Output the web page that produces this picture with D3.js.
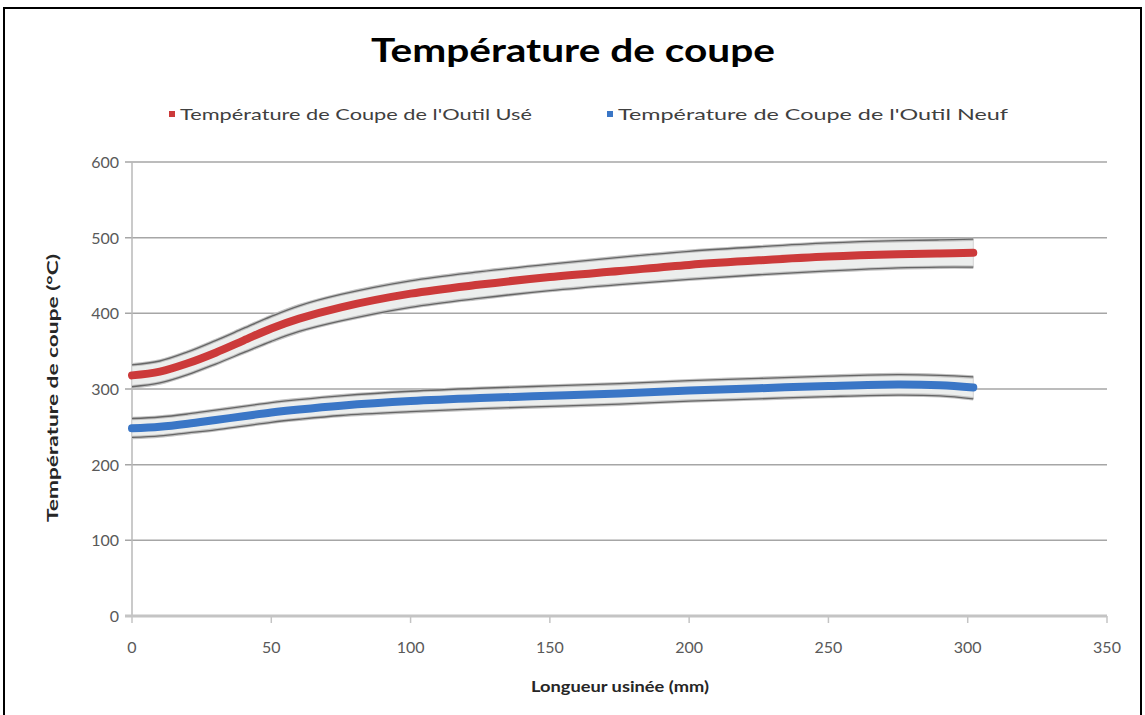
<!DOCTYPE html>
<html>
<head>
<meta charset="utf-8">
<script src="https://cdn.jsdelivr.net/npm/d3@7"></script>
<style>
	body { margin: 0; background: #fff; }
	svg { display: block; font-family: Lato, "Open Sans", sans-serif; }
</style>
</head>
<body>
<div id="chart"></div>
<script>
// longueur usinée (mm)
var lengths = [0, 10, 20, 30, 40, 50, 60, 75, 100, 125, 150, 175, 200, 225, 250, 275, 290, 302];
// température outil usé, courbe + bornes
var usedTemp = [318, 323, 334, 348, 364, 380, 393, 408, 426, 438, 448, 456, 464, 470, 475, 478, 479, 480];
var usedHigh = [332, 337, 349, 364, 380, 396, 410, 425, 443, 455, 465, 474, 482, 488, 493, 496, 497, 498];
var usedLow  = [303, 308, 319, 333, 348, 363, 376, 390, 408, 420, 430, 438, 445, 451, 456, 460, 461, 461];
// température outil neuf, courbe + bornes
var newTemp = [248, 250, 254, 259, 264, 269, 273, 278, 284, 288, 291, 294, 298, 301, 304, 306, 305, 302];
var newHigh = [261, 263, 267, 272, 277, 282, 286, 291, 297, 301, 304, 307, 311, 314, 317, 319, 318, 316];
var newLow  = [236, 238, 242, 246, 251, 256, 260, 265, 270, 274, 277, 280, 284, 287, 290, 292, 291, 287];

var xTicks = [0, 50, 100, 150, 200, 250, 300, 350];
var yTicks = [0, 100, 200, 300, 400, 500, 600];
var seriesNames = ["Température de Coupe de l'Outil Usé", "Température de Coupe de l'Outil Neuf"];

var W = 1145, H = 715;
var svg = d3.select("#chart").append("svg").attr("width", W).attr("height", H);

// cadre (le bas sort de l'image)
svg.append("rect").attr("x", 4).attr("y", 8).attr("width", 1137).attr("height", 720)
	.attr("fill", "#fff").attr("stroke", "#000").attr("stroke-width", 2);

var x = d3.scaleLinear().domain([0, 350]).range([132, 1107]);
var y = d3.scaleLinear().domain([0, 600]).range([616, 162]);

// grille
svg.append("g").selectAll("line").data(yTicks.filter(function (d) { return d > 0; })).enter()
	.append("line")
	.attr("x1", 125).attr("x2", x(350))
	.attr("y1", function (d) { return y(d); }).attr("y2", function (d) { return y(d); })
	.attr("stroke", "#a6a6a6").attr("stroke-width", 1.5);

// axe y
svg.append("line").attr("x1", x(0)).attr("x2", x(0)).attr("y1", y(600)).attr("y2", y(0))
	.attr("stroke", "#b8b8b8").attr("stroke-width", 1.5);

// axe x
svg.append("line").attr("x1", 125).attr("x2", x(350)).attr("y1", y(0)).attr("y2", y(0))
	.attr("stroke", "#c4c4c4").attr("stroke-width", 3);
svg.append("g").selectAll("line").data(xTicks).enter().append("line")
	.attr("x1", function (d) { return x(d); }).attr("x2", function (d) { return x(d); })
	.attr("y1", y(0)).attr("y2", y(0) + 7)
	.attr("stroke", "#c4c4c4").attr("stroke-width", 1.5);

svg.append("g").selectAll("text").data(yTicks).enter().append("text")
	.attr("x", 119).attr("y", function (d) { return y(d) + 6; })
	.attr("text-anchor", "end").attr("font-size", 16).attr("fill", "#595959")
	.text(function (d) { return d; });

svg.append("g").selectAll("text").data(xTicks).enter().append("text")
	.attr("x", function (d) { return x(d); }).attr("y", 653)
	.attr("text-anchor", "middle").attr("font-size", 16).attr("fill", "#595959")
	.text(function (d) { return d; });

// titres
svg.append("text").attr("x", 573).attr("y", 62).attr("text-anchor", "middle")
	.attr("font-size", 33).attr("font-weight", "bold").attr("fill", "#000")
	.attr("textLength", 404).attr("lengthAdjust", "spacingAndGlyphs")
	.text("Température de coupe");

svg.append("text").attr("x", 620).attr("y", 692).attr("text-anchor", "middle")
	.attr("font-size", 16).attr("font-weight", "bold").attr("fill", "#262626")
	.attr("textLength", 178).attr("lengthAdjust", "spacingAndGlyphs")
	.text("Longueur usinée (mm)");

svg.append("text").attr("transform", "translate(58,388) rotate(-90)").attr("text-anchor", "middle")
	.attr("font-size", 16).attr("font-weight", "bold").attr("fill", "#262626")
	.attr("textLength", 268).attr("lengthAdjust", "spacingAndGlyphs")
	.text("Température de coupe (°C)");

// courbes
var curve = d3.curveCatmullRom.alpha(0.5);

function drawSeries(mid, hi, lo, color) {
	var pts = lengths.map(function (d, i) { return { x: d, m: mid[i], h: hi[i], l: lo[i] }; });
	var area = d3.area().curve(curve)
		.x(function (d) { return x(d.x); })
		.y0(function (d) { return y(d.l); })
		.y1(function (d) { return y(d.h); });
	svg.append("path").datum(pts).attr("d", area)
		.attr("fill", "#eceeed").attr("stroke", "#d4d4d4").attr("stroke-width", 1);
	["h", "l"].forEach(function (k) {
		var ln = d3.line().curve(curve)
			.x(function (d) { return x(d.x); })
			.y(function (d) { return y(d[k]); });
		svg.append("path").datum(pts).attr("d", ln)
			.attr("fill", "none").attr("stroke", "#c2c2c2").attr("stroke-width", 3.5);
		svg.append("path").datum(pts).attr("d", ln)
			.attr("fill", "none").attr("stroke", "#666").attr("stroke-width", 1.3);
	});
	var mline = d3.line().curve(curve)
		.x(function (d) { return x(d.x); })
		.y(function (d) { return y(d.m); });
	svg.append("path").datum(pts).attr("d", mline)
		.attr("fill", "none").attr("stroke", color).attr("stroke-width", 8)
		.attr("stroke-linecap", "round");
}

drawSeries(newTemp, newHigh, newLow, "#3a76c6");
drawSeries(usedTemp, usedHigh, usedLow, "#cc3a3a");

// légende
var legend = [
	{ name: seriesNames[0], color: "#cc3a3a", x: 169, w: 352 },
	{ name: seriesNames[1], color: "#3a76c6", x: 607, w: 390 }
];
var lg = svg.append("g").selectAll("g").data(legend).enter().append("g");
lg.append("rect").attr("x", function (d) { return d.x; }).attr("y", 111)
	.attr("width", 6).attr("height", 6).attr("fill", function (d) { return d.color; });
lg.append("text").attr("x", function (d) { return d.x + 11; }).attr("y", 120)
	.attr("font-size", 16).attr("fill", "#404040")
	.attr("textLength", function (d) { return d.w; }).attr("lengthAdjust", "spacingAndGlyphs")
	.text(function (d) { return d.name; });
</script>
</body>
</html>
